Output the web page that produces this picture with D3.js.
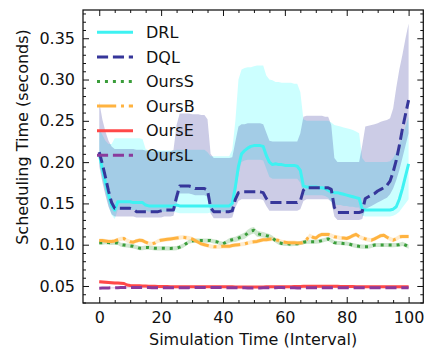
<!DOCTYPE html>
<html>
<head>
<meta charset="utf-8">
<script src="https://cdn.jsdelivr.net/npm/d3@7"></script>
<style>
  html, body { margin: 0; padding: 0; background: #fff; }
  svg { display: block; }
  text { font-family: "DejaVu Sans", sans-serif; fill: #111; }
</style>
</head>
<body>
<svg id="chart" width="428" height="355"></svg>
<script>
// Simulation time steps (intervals 0..100)
const steps = d3.range(0, 101);

// DRL: mean scheduling time and its shaded band
const drlMean = [
  0.210, 0.192, 0.175, 0.160, 0.147, 0.142, 0.152, 0.152, 0.152, 0.152,
  0.152, 0.151, 0.151, 0.151, 0.151, 0.148, 0.147, 0.147, 0.147, 0.147,
  0.147, 0.147, 0.147, 0.147, 0.147, 0.148, 0.147, 0.147, 0.147, 0.147,
  0.147, 0.147, 0.147, 0.147, 0.147, 0.147, 0.147, 0.147, 0.147, 0.147,
  0.147, 0.147, 0.147, 0.150, 0.170, 0.195, 0.210, 0.214, 0.217, 0.219,
  0.220, 0.220, 0.220, 0.219, 0.208, 0.200, 0.197, 0.198, 0.197, 0.197,
  0.196, 0.196, 0.196, 0.196, 0.195, 0.190, 0.171, 0.170, 0.170, 0.170,
  0.170, 0.169, 0.169, 0.168, 0.166, 0.164, 0.163, 0.163, 0.162, 0.161,
  0.160, 0.159, 0.158, 0.157, 0.156, 0.143, 0.142, 0.142, 0.142, 0.142,
  0.142, 0.142, 0.142, 0.142, 0.142, 0.143, 0.146, 0.155, 0.168, 0.183,
  0.198
];
const drlLow = [
  0.200, 0.180, 0.162, 0.147, 0.136, 0.131, 0.142, 0.142, 0.142, 0.142,
  0.142, 0.142, 0.142, 0.142, 0.142, 0.141, 0.140, 0.140, 0.140, 0.140,
  0.140, 0.140, 0.140, 0.140, 0.140, 0.139, 0.138, 0.138, 0.138, 0.138,
  0.138, 0.138, 0.138, 0.138, 0.138, 0.138, 0.139, 0.140, 0.140, 0.140,
  0.140, 0.140, 0.140, 0.142, 0.160, 0.185, 0.200, 0.202, 0.203, 0.203,
  0.203, 0.203, 0.203, 0.202, 0.192, 0.182, 0.180, 0.180, 0.180, 0.180,
  0.180, 0.180, 0.180, 0.180, 0.180, 0.175, 0.160, 0.160, 0.160, 0.160,
  0.160, 0.160, 0.160, 0.159, 0.157, 0.152, 0.149, 0.148, 0.148, 0.147,
  0.147, 0.146, 0.146, 0.145, 0.145, 0.135, 0.134, 0.134, 0.134, 0.134,
  0.134, 0.134, 0.134, 0.134, 0.134, 0.135, 0.137, 0.140, 0.145, 0.150,
  0.155
];
const drlHigh = [
  0.240, 0.233, 0.226, 0.222, 0.222, 0.229, 0.229, 0.229, 0.229, 0.229,
  0.229, 0.229, 0.229, 0.229, 0.228, 0.216, 0.214, 0.214, 0.214, 0.214,
  0.214, 0.214, 0.214, 0.214, 0.214, 0.215, 0.215, 0.215, 0.215, 0.215,
  0.215, 0.215, 0.215, 0.215, 0.215, 0.212, 0.207, 0.207, 0.207, 0.207,
  0.207, 0.207, 0.207, 0.215, 0.250, 0.300, 0.312, 0.314, 0.315, 0.315,
  0.316, 0.317, 0.317, 0.317, 0.305, 0.300, 0.299, 0.297, 0.297, 0.296,
  0.296, 0.296, 0.296, 0.295, 0.295, 0.285, 0.252, 0.250, 0.250, 0.250,
  0.250, 0.250, 0.250, 0.250, 0.250, 0.248, 0.245, 0.244, 0.243, 0.242,
  0.241, 0.240, 0.239, 0.237, 0.235, 0.205, 0.200, 0.200, 0.200, 0.200,
  0.200, 0.200, 0.200, 0.200, 0.201, 0.205, 0.212, 0.222, 0.232, 0.243,
  0.255
];

// DQL: mean scheduling time and its shaded band
const dqlMean = [
  0.212, 0.198, 0.182, 0.165, 0.151, 0.144, 0.144, 0.144, 0.144, 0.144,
  0.144, 0.143, 0.140, 0.140, 0.140, 0.140, 0.140, 0.140, 0.140, 0.140,
  0.141, 0.142, 0.142, 0.142, 0.142, 0.158, 0.171, 0.171, 0.171, 0.171,
  0.170, 0.168, 0.168, 0.168, 0.168, 0.166, 0.145, 0.140, 0.140, 0.140,
  0.140, 0.140, 0.140, 0.141, 0.155, 0.163, 0.164, 0.164, 0.164, 0.164,
  0.164, 0.164, 0.164, 0.163, 0.156, 0.151, 0.151, 0.151, 0.151, 0.151,
  0.151, 0.151, 0.151, 0.151, 0.151, 0.153, 0.166, 0.169, 0.169, 0.169,
  0.169, 0.169, 0.169, 0.169, 0.169, 0.167, 0.145, 0.139, 0.139, 0.139,
  0.139, 0.139, 0.139, 0.139, 0.139, 0.140, 0.156, 0.158, 0.160, 0.162,
  0.165, 0.167, 0.169, 0.172, 0.177, 0.188, 0.202, 0.220, 0.240, 0.258,
  0.275
];
const dqlLow = [
  0.195, 0.176, 0.160, 0.146, 0.137, 0.134, 0.134, 0.134, 0.134, 0.134,
  0.134, 0.134, 0.133, 0.133, 0.133, 0.133, 0.133, 0.133, 0.133, 0.133,
  0.133, 0.134, 0.134, 0.134, 0.135, 0.150, 0.162, 0.162, 0.162, 0.162,
  0.161, 0.160, 0.160, 0.160, 0.160, 0.158, 0.138, 0.132, 0.132, 0.132,
  0.132, 0.132, 0.132, 0.133, 0.145, 0.153, 0.155, 0.155, 0.155, 0.155,
  0.155, 0.155, 0.155, 0.154, 0.147, 0.141, 0.141, 0.141, 0.141, 0.141,
  0.141, 0.141, 0.141, 0.141, 0.141, 0.143, 0.153, 0.155, 0.155, 0.155,
  0.155, 0.155, 0.155, 0.155, 0.155, 0.152, 0.134, 0.130, 0.130, 0.130,
  0.130, 0.130, 0.130, 0.130, 0.130, 0.131, 0.143, 0.145, 0.147, 0.149,
  0.151, 0.153, 0.155, 0.157, 0.161, 0.168, 0.178, 0.190, 0.205, 0.220,
  0.235
];
const dqlHigh = [
  0.273, 0.252, 0.237, 0.226, 0.219, 0.216, 0.216, 0.216, 0.216, 0.216,
  0.216, 0.216, 0.215, 0.215, 0.215, 0.214, 0.214, 0.213, 0.213, 0.213,
  0.213, 0.213, 0.213, 0.213, 0.215, 0.245, 0.259, 0.259, 0.259, 0.259,
  0.258, 0.258, 0.258, 0.257, 0.257, 0.252, 0.210, 0.205, 0.205, 0.205,
  0.205, 0.205, 0.205, 0.206, 0.225, 0.243, 0.246, 0.246, 0.247, 0.247,
  0.247, 0.247, 0.247, 0.246, 0.236, 0.226, 0.225, 0.225, 0.225, 0.225,
  0.225, 0.225, 0.225, 0.225, 0.225, 0.235, 0.255, 0.256, 0.256, 0.256,
  0.256, 0.256, 0.256, 0.255, 0.255, 0.245, 0.205, 0.200, 0.200, 0.200,
  0.200, 0.200, 0.200, 0.200, 0.200, 0.220, 0.243, 0.244, 0.245, 0.246,
  0.247, 0.249, 0.250, 0.251, 0.253, 0.265, 0.290, 0.312, 0.330, 0.350,
  0.368
];

// OursS
const oursSMean = [
  0.1025, 0.1025, 0.1030, 0.1025, 0.1020, 0.1025, 0.1020, 0.1000, 0.0995, 0.0990,
  0.0985, 0.0980, 0.0970, 0.0958, 0.0958, 0.0965, 0.0965, 0.0960, 0.0956, 0.0956,
  0.0956, 0.0956, 0.0955, 0.0955, 0.0956, 0.0958, 0.0970, 0.0985, 0.1010, 0.1035,
  0.1045, 0.1050, 0.1050, 0.1050, 0.1050, 0.1050, 0.1050, 0.1040, 0.1035, 0.1020,
  0.1010, 0.1030, 0.1050, 0.1060, 0.1065, 0.1080, 0.1095, 0.1110, 0.1140, 0.1165,
  0.1175, 0.1135, 0.1125, 0.1120, 0.1110, 0.1100, 0.1080, 0.1050, 0.1025, 0.1015,
  0.1010, 0.1010, 0.1005, 0.1010, 0.1010, 0.1020, 0.1030, 0.1035, 0.1035, 0.1035,
  0.1035, 0.1040, 0.1050, 0.1060, 0.1070, 0.1050, 0.1025, 0.1020, 0.1020, 0.1015,
  0.1015, 0.1005, 0.0995, 0.0985, 0.0980, 0.0976, 0.0976, 0.0976, 0.0985, 0.0996,
  0.0996, 0.0996, 0.0996, 0.0996, 0.0995, 0.0995, 0.0996, 0.1000, 0.1010, 0.0995,
  0.0976
];
const oursSSpread = [
  0.0025, 0.0025, 0.0025, 0.0025, 0.0025, 0.0025, 0.0025, 0.0025, 0.0025, 0.0025,
  0.0025, 0.0025, 0.0025, 0.0025, 0.0025, 0.0025, 0.0025, 0.0025, 0.0025, 0.0025,
  0.0025, 0.0025, 0.0025, 0.0025, 0.0025, 0.0025, 0.0025, 0.0025, 0.0025, 0.0025,
  0.0025, 0.0025, 0.0025, 0.0025, 0.0025, 0.0025, 0.0025, 0.0025, 0.0025, 0.0025,
  0.0025, 0.0025, 0.0028, 0.0030, 0.0032, 0.0034, 0.0036, 0.0038, 0.0040, 0.0040,
  0.0040, 0.0038, 0.0036, 0.0034, 0.0032, 0.0030, 0.0028, 0.0026, 0.0025, 0.0025,
  0.0025, 0.0025, 0.0025, 0.0025, 0.0025, 0.0025, 0.0025, 0.0025, 0.0025, 0.0025,
  0.0025, 0.0025, 0.0025, 0.0025, 0.0025, 0.0025, 0.0025, 0.0025, 0.0025, 0.0025,
  0.0025, 0.0025, 0.0025, 0.0025, 0.0025, 0.0025, 0.0025, 0.0025, 0.0025, 0.0025,
  0.0025, 0.0025, 0.0025, 0.0025, 0.0025, 0.0025, 0.0025, 0.0025, 0.0025, 0.0025,
  0.0025
];

// OursB
const oursBMean = [
  0.1050, 0.1050, 0.1045, 0.1040, 0.1040, 0.1045, 0.1060, 0.1070, 0.1075, 0.1050,
  0.1035, 0.1030, 0.1045, 0.1055, 0.1050, 0.1030, 0.1015, 0.1010, 0.1020, 0.1045,
  0.1055, 0.1060, 0.1065, 0.1070, 0.1075, 0.1080, 0.1085, 0.1090, 0.1085, 0.1080,
  0.1070, 0.1050, 0.1030, 0.1010, 0.1000, 0.0990, 0.0980, 0.0975, 0.0975, 0.0975,
  0.0980, 0.0980, 0.0980, 0.0990, 0.0995, 0.1000, 0.1005, 0.1010, 0.1020, 0.1030,
  0.1035, 0.1040, 0.1050, 0.1060, 0.1060, 0.1065, 0.1070, 0.1060, 0.1050, 0.1035,
  0.1030, 0.1025, 0.1025, 0.1025, 0.1020, 0.1020, 0.1025, 0.1060, 0.1110, 0.1090,
  0.1080, 0.1110, 0.1125, 0.1125, 0.1125, 0.1110, 0.1095, 0.1090, 0.1080, 0.1080,
  0.1075, 0.1090, 0.1110, 0.1125, 0.1100, 0.1080, 0.1070, 0.1060, 0.1055, 0.1070,
  0.1090, 0.1110, 0.1115, 0.1090, 0.1070, 0.1055, 0.1070, 0.1095, 0.1100, 0.1100,
  0.1100
];
const oursBSpread = [
  0.0025, 0.0025, 0.0025, 0.0025, 0.0025, 0.0025, 0.0025, 0.0025, 0.0025, 0.0025,
  0.0025, 0.0025, 0.0025, 0.0025, 0.0025, 0.0025, 0.0025, 0.0025, 0.0025, 0.0025,
  0.0025, 0.0025, 0.0025, 0.0025, 0.0025, 0.0025, 0.0025, 0.0025, 0.0025, 0.0025,
  0.0025, 0.0025, 0.0025, 0.0025, 0.0025, 0.0025, 0.0025, 0.0025, 0.0025, 0.0025,
  0.0025, 0.0025, 0.0025, 0.0025, 0.0025, 0.0025, 0.0025, 0.0025, 0.0025, 0.0025,
  0.0025, 0.0025, 0.0025, 0.0025, 0.0025, 0.0025, 0.0025, 0.0025, 0.0025, 0.0025,
  0.0025, 0.0025, 0.0025, 0.0025, 0.0025, 0.0025, 0.0025, 0.0025, 0.0025, 0.0025,
  0.0025, 0.0025, 0.0025, 0.0025, 0.0025, 0.0025, 0.0025, 0.0025, 0.0025, 0.0025,
  0.0025, 0.0025, 0.0025, 0.0025, 0.0025, 0.0025, 0.0025, 0.0025, 0.0025, 0.0025,
  0.0025, 0.0025, 0.0025, 0.0025, 0.0025, 0.0025, 0.0025, 0.0025, 0.0025, 0.0025,
  0.0025
];

// OursE
const oursEMean = [
  0.0552, 0.0549, 0.0546, 0.0543, 0.0540, 0.0537, 0.0535, 0.0533, 0.0530, 0.0512,
  0.0506, 0.0504, 0.0503, 0.0502, 0.0500, 0.0499, 0.0498, 0.0497, 0.0496, 0.0495,
  0.0494, 0.0494, 0.0493, 0.0492, 0.0492, 0.0491, 0.0490, 0.0490, 0.0490, 0.0490,
  0.0490, 0.0490, 0.0491, 0.0491, 0.0491, 0.0491, 0.0491, 0.0491, 0.0490, 0.0490,
  0.0490, 0.0490, 0.0490, 0.0490, 0.0489, 0.0489, 0.0489, 0.0489, 0.0489, 0.0489,
  0.0489, 0.0489, 0.0489, 0.0489, 0.0490, 0.0490, 0.0490, 0.0490, 0.0490, 0.0490,
  0.0490, 0.0491, 0.0492, 0.0493, 0.0494, 0.0495, 0.0496, 0.0497, 0.0497, 0.0497,
  0.0498, 0.0498, 0.0498, 0.0498, 0.0498, 0.0497, 0.0497, 0.0496, 0.0495, 0.0494,
  0.0494, 0.0493, 0.0493, 0.0492, 0.0492, 0.0492, 0.0491, 0.0491, 0.0491, 0.0491,
  0.0491, 0.0491, 0.0491, 0.0491, 0.0491, 0.0491, 0.0491, 0.0491, 0.0491, 0.0491,
  0.0491
];
const oursESpread = [
  0.0020, 0.0020, 0.0019, 0.0019, 0.0018, 0.0018, 0.0017, 0.0017, 0.0016, 0.0015,
  0.0014, 0.0013, 0.0012, 0.0012, 0.0012, 0.0012, 0.0012, 0.0012, 0.0012, 0.0012,
  0.0012, 0.0012, 0.0012, 0.0012, 0.0012, 0.0012, 0.0012, 0.0012, 0.0012, 0.0012,
  0.0012, 0.0012, 0.0012, 0.0012, 0.0012, 0.0012, 0.0012, 0.0012, 0.0012, 0.0012,
  0.0012, 0.0012, 0.0012, 0.0012, 0.0012, 0.0012, 0.0012, 0.0012, 0.0012, 0.0012,
  0.0012, 0.0012, 0.0012, 0.0012, 0.0012, 0.0012, 0.0012, 0.0012, 0.0012, 0.0012,
  0.0012, 0.0012, 0.0012, 0.0012, 0.0012, 0.0012, 0.0012, 0.0012, 0.0012, 0.0012,
  0.0012, 0.0012, 0.0012, 0.0012, 0.0012, 0.0012, 0.0012, 0.0012, 0.0012, 0.0012,
  0.0012, 0.0012, 0.0012, 0.0012, 0.0012, 0.0012, 0.0012, 0.0012, 0.0012, 0.0012,
  0.0012, 0.0012, 0.0012, 0.0012, 0.0012, 0.0012, 0.0012, 0.0012, 0.0012, 0.0012,
  0.0012
];

// OursL
const oursLMean = [
  0.0474, 0.0475, 0.0476, 0.0477, 0.0478, 0.0479, 0.0480, 0.0481, 0.0481, 0.0482,
  0.0482, 0.0482, 0.0482, 0.0482, 0.0481, 0.0481, 0.0481, 0.0480, 0.0480, 0.0480,
  0.0479, 0.0479, 0.0479, 0.0478, 0.0478, 0.0478, 0.0478, 0.0478, 0.0479, 0.0480,
  0.0481, 0.0481, 0.0482, 0.0482, 0.0483, 0.0483, 0.0483, 0.0482, 0.0482, 0.0481,
  0.0481, 0.0480, 0.0480, 0.0479, 0.0479, 0.0478, 0.0478, 0.0478, 0.0477, 0.0477,
  0.0477, 0.0477, 0.0477, 0.0478, 0.0478, 0.0479, 0.0480, 0.0480, 0.0481, 0.0481,
  0.0480, 0.0480, 0.0479, 0.0478, 0.0477, 0.0477, 0.0477, 0.0478, 0.0478, 0.0479,
  0.0479, 0.0480, 0.0480, 0.0480, 0.0480, 0.0480, 0.0480, 0.0480, 0.0480, 0.0480,
  0.0480, 0.0480, 0.0480, 0.0480, 0.0480, 0.0480, 0.0480, 0.0480, 0.0480, 0.0480,
  0.0480, 0.0480, 0.0480, 0.0480, 0.0479, 0.0478, 0.0478, 0.0478, 0.0478, 0.0478,
  0.0478
];
const oursLSpread = [
  0.0008, 0.0008, 0.0008, 0.0008, 0.0008, 0.0008, 0.0008, 0.0008, 0.0008, 0.0008,
  0.0008, 0.0008, 0.0008, 0.0008, 0.0008, 0.0008, 0.0008, 0.0008, 0.0008, 0.0008,
  0.0008, 0.0008, 0.0008, 0.0008, 0.0008, 0.0008, 0.0008, 0.0008, 0.0008, 0.0008,
  0.0008, 0.0008, 0.0008, 0.0008, 0.0008, 0.0008, 0.0008, 0.0008, 0.0008, 0.0008,
  0.0008, 0.0008, 0.0008, 0.0008, 0.0008, 0.0008, 0.0008, 0.0008, 0.0008, 0.0008,
  0.0008, 0.0008, 0.0008, 0.0008, 0.0008, 0.0008, 0.0008, 0.0008, 0.0008, 0.0008,
  0.0008, 0.0008, 0.0008, 0.0008, 0.0008, 0.0008, 0.0008, 0.0008, 0.0008, 0.0008,
  0.0008, 0.0008, 0.0008, 0.0008, 0.0008, 0.0008, 0.0008, 0.0008, 0.0008, 0.0008,
  0.0008, 0.0008, 0.0008, 0.0008, 0.0008, 0.0008, 0.0008, 0.0008, 0.0008, 0.0008,
  0.0008, 0.0008, 0.0008, 0.0008, 0.0008, 0.0008, 0.0008, 0.0008, 0.0008, 0.0008,
  0.0008
];

// Axis ticks
const xMajorTicks = [0, 20, 40, 60, 80, 100];
const xMinorTicks = [5, 10, 15, 25, 30, 35, 45, 50, 55, 65, 70, 75, 85, 90, 95];
const yMajorTicks = [0.05, 0.10, 0.15, 0.20, 0.25, 0.30, 0.35];
const yMinorTicks = [0.03, 0.04, 0.06, 0.07, 0.08, 0.09, 0.11, 0.12, 0.13, 0.14,
  0.16, 0.17, 0.18, 0.19, 0.21, 0.22, 0.23, 0.24, 0.26, 0.27, 0.28, 0.29,
  0.31, 0.32, 0.33, 0.34, 0.36, 0.37, 0.38];

const seriesNames = ["DRL", "DQL", "OursS", "OursB", "OursE", "OursL"];

// ---- drawing ----
const svg = d3.select("#chart");
const plot = { left: 83, right: 423.3, top: 10, bottom: 303 };

const x = d3.scaleLinear().domain([-5.25, 104.75]).range([plot.left, plot.right]);
const y = d3.scaleLinear().domain([0.0294, 0.3842]).range([plot.bottom, plot.top]);

svg.append("defs").append("clipPath").attr("id", "plot-clip")
  .append("rect")
  .attr("x", plot.left).attr("y", plot.top)
  .attr("width", plot.right - plot.left).attr("height", plot.bottom - plot.top);

const series = [
  { name: seriesNames[0], mean: drlMean, lo: drlLow, hi: drlHigh,
    color: "#3ef2f2", band: "#00ffff", bandOpacity: 0.2, dash: null },
  { name: seriesNames[1], mean: dqlMean, lo: dqlLow, hi: dqlHigh,
    color: "#36369a", band: "#000080", bandOpacity: 0.2, dash: "11.1,4.8" },
  { name: seriesNames[2], mean: oursSMean,
    lo: oursSMean.map((v, i) => v - oursSSpread[i]), hi: oursSMean.map((v, i) => v + oursSSpread[i]),
    color: "#3a9d3a", band: "#3a9d3a", bandOpacity: 0.25, dash: "3,4.95" },
  { name: seriesNames[3], mean: oursBMean,
    lo: oursBMean.map((v, i) => v - oursBSpread[i]), hi: oursBMean.map((v, i) => v + oursBSpread[i]),
    color: "#ffb340", band: "#ffb340", bandOpacity: 0.25, dash: "19.2,4.8,3,4.8" },
  { name: seriesNames[4], mean: oursEMean,
    lo: oursEMean.map((v, i) => v - oursESpread[i]), hi: oursEMean.map((v, i) => v + oursESpread[i]),
    color: "#ff4848", band: "#ff4848", bandOpacity: 0.22, dash: null },
  { name: seriesNames[5], mean: oursLMean,
    lo: oursLMean.map((v, i) => v - oursLSpread[i]), hi: oursLMean.map((v, i) => v + oursLSpread[i]),
    color: "#8a3a9c", band: "#8a3a9c", bandOpacity: 0.2, dash: "11.1,4.8" }
];

const g = svg.append("g").attr("clip-path", "url(#plot-clip)");

// shaded bands
series.forEach(s => {
  const area = d3.area()
    .x((d, i) => x(steps[i]))
    .y0((d, i) => y(s.lo[i]))
    .y1((d, i) => y(s.hi[i]));
  g.append("path")
    .datum(s.mean)
    .attr("d", area)
    .attr("fill", s.band)
    .attr("fill-opacity", s.bandOpacity)
    .attr("stroke", "none");
});

// mean lines
series.forEach(s => {
  const line = d3.line()
    .x((d, i) => x(steps[i]))
    .y(d => y(d));
  g.append("path")
    .datum(s.mean)
    .attr("d", line)
    .attr("fill", "none")
    .attr("stroke", s.color)
    .attr("stroke-width", 3)
    .attr("stroke-linejoin", "round")
    .attr("stroke-dasharray", s.dash);
});

// axes with inward ticks on all four sides
function styleAxis(sel) {
  sel.select(".domain").remove();
  sel.selectAll(".tick line").attr("stroke", "#111").attr("stroke-width", 1);
  sel.selectAll(".tick text")
    .style("font-family", "'DejaVu Sans', sans-serif")
    .style("font-size", "16px")
    .attr("fill", "#111");
}

svg.append("g").attr("transform", `translate(0,${plot.bottom})`)
  .call(d3.axisBottom(x).tickValues(xMajorTicks).tickFormat(d3.format("d"))
    .tickSize(-6).tickPadding(9))
  .call(styleAxis);
svg.append("g").attr("transform", `translate(0,${plot.bottom})`)
  .call(d3.axisBottom(x).tickValues(xMinorTicks).tickFormat("").tickSize(-3))
  .call(styleAxis);
svg.append("g").attr("transform", `translate(0,${plot.top})`)
  .call(d3.axisTop(x).tickValues(xMajorTicks).tickFormat("").tickSize(-6))
  .call(styleAxis);
svg.append("g").attr("transform", `translate(0,${plot.top})`)
  .call(d3.axisTop(x).tickValues(xMinorTicks).tickFormat("").tickSize(-3))
  .call(styleAxis);

svg.append("g").attr("transform", `translate(${plot.left},0)`)
  .call(d3.axisLeft(y).tickValues(yMajorTicks).tickFormat(d3.format(".2f"))
    .tickSize(-6).tickPadding(8))
  .call(styleAxis);
svg.append("g").attr("transform", `translate(${plot.left},0)`)
  .call(d3.axisLeft(y).tickValues(yMinorTicks).tickFormat("").tickSize(-3))
  .call(styleAxis);
svg.append("g").attr("transform", `translate(${plot.right},0)`)
  .call(d3.axisRight(y).tickValues(yMajorTicks).tickFormat("").tickSize(-6))
  .call(styleAxis);
svg.append("g").attr("transform", `translate(${plot.right},0)`)
  .call(d3.axisRight(y).tickValues(yMinorTicks).tickFormat("").tickSize(-3))
  .call(styleAxis);

// frame
svg.append("rect")
  .attr("x", plot.left).attr("y", plot.top)
  .attr("width", plot.right - plot.left).attr("height", plot.bottom - plot.top)
  .attr("fill", "none").attr("stroke", "#111").attr("stroke-width", 1.25);

// axis titles
svg.append("text")
  .attr("x", (plot.left + plot.right) / 2).attr("y", 345)
  .attr("text-anchor", "middle")
  .style("font-size", "16px")
  .text("Simulation Time (Interval)");
svg.append("text")
  .attr("transform", "translate(27.5,137) rotate(-90)")
  .attr("text-anchor", "middle")
  .style("font-size", "16px")
  .text("Scheduling Time (seconds)");

// legend
const legend = svg.append("g");
series.forEach((s, i) => {
  const ly = 32.3 + i * 24.6;
  legend.append("line")
    .attr("x1", 97).attr("x2", 133).attr("y1", ly).attr("y2", ly)
    .attr("stroke", s.color).attr("stroke-width", 3)
    .attr("stroke-dasharray", s.dash);
  legend.append("text")
    .attr("x", 146).attr("y", ly).attr("dy", "0.36em")
    .style("font-size", "16px")
    .text(s.name);
});
</script>
</body>
</html>
